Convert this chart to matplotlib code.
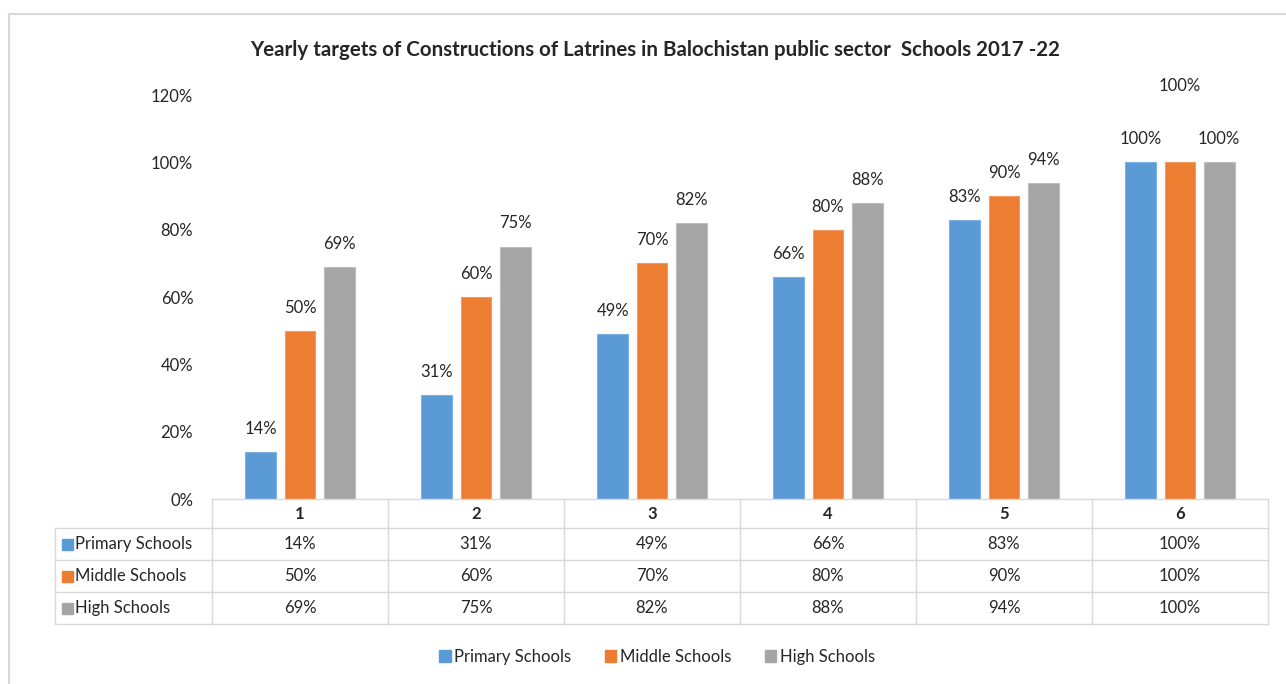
import matplotlib
matplotlib.use("Agg")
import matplotlib.pyplot as plt
from matplotlib.lines import Line2D
from matplotlib.patches import Rectangle
import numpy as np

plt.rcParams['font.family'] = ['Lato', 'DejaVu Sans']

categories = ['1', '2', '3', '4', '5', '6']
series_names = ['Primary Schools', 'Middle Schools', 'High Schools']
primary = [0.14, 0.31, 0.49, 0.66, 0.83, 1.00]
middle = [0.50, 0.60, 0.70, 0.80, 0.90, 1.00]
high = [0.69, 0.75, 0.82, 0.88, 0.94, 1.00]
yticks = [0, 0.2, 0.4, 0.6, 0.8, 1.0, 1.2]
ytick_labels = ['0%', '20%', '40%', '60%', '80%', '100%', '120%']
title = 'Yearly targets of Constructions of Latrines in Balochistan public sector  Schools 2017 -22'

colors = ['#5B9BD5', '#ED7D31', '#A5A5A5']
edges = ['#7FB1E0', '#F29A60', '#BDBDBD']
grid_c = '#D9D9D9'
txt_c = '#262626'
fs = 12

W, H = 1286, 684
fig = plt.figure(figsize=(W / 100, H / 100), dpi=100)

def fx(px):
    return px / W

def fy(py):
    return 1 - py / H

# plot area
L, R, T, B = 212, 1268, 95, 499
ax = fig.add_axes([fx(L), fy(B), fx(R) - fx(L), fy(T) - fy(B)])
n = len(categories)
x = np.arange(n)
bw = 0.176
step = 0.222
all_series = [primary, middle, high]
for k, vals in enumerate(all_series):
    ax.bar(x + (k - 1) * step, vals, width=bw, color=colors[k],
           edgecolor=edges[k], linewidth=0.8, label=series_names[k])
    for i, v in enumerate(vals):
        off = 23
        if k == 1 and i == n - 1:
            off = 76
        ax.annotate(f'{round(v * 100):d}%', (x[i] + (k - 1) * step, v),
                    xytext=(0, off), textcoords='offset pixels',
                    ha='center', va='center', fontsize=fs, color=txt_c)

ax.set_xlim(-0.5, n - 0.5)
ax.set_ylim(0, 1.2)
ax.set_yticks(yticks)
ax.set_yticklabels(ytick_labels, fontsize=fs, color=txt_c)
ax.tick_params(axis='y', length=0, pad=13.5)
ax.set_xticks([])
for s in ax.spines.values():
    s.set_visible(False)

# data table
col_w = (R - L) / n
row_top = [499, 528, 560, 592]
row_bot = 624
tleft = 55
lw = 1.0

def hline(y, x0, x1):
    fig.add_artist(Line2D([fx(x0), fx(x1)], [fy(y), fy(y)], color=grid_c, lw=lw))

def vline(xp, y0, y1):
    fig.add_artist(Line2D([fx(xp), fx(xp)], [fy(y0), fy(y1)], color=grid_c, lw=lw))

hline(499, L, R)
for y in row_top[1:] + [row_bot]:
    hline(y, tleft, R)
vline(tleft, 528, row_bot)
for j in range(n + 1):
    vline(L + j * col_w, 499, row_bot)

for j, c in enumerate(categories):
    fig.text(fx(L + (j + 0.5) * col_w), fy(514), c, ha='center', va='center',
             fontsize=fs, fontweight='bold', color=txt_c)
for k, vals in enumerate(all_series):
    yc = (row_top[k + 1] + (row_top[k + 2] if k + 2 < len(row_top) else row_bot)) / 2
    fig.add_artist(Rectangle((fx(62), fy(yc + 5.5)), fx(11), 11 / H,
                             color=colors[k], transform=fig.transFigure))
    fig.text(fx(75), fy(yc), series_names[k], ha='left', va='center',
             fontsize=fs, color=txt_c)
    for j, v in enumerate(vals):
        fig.text(fx(L + (j + 0.5) * col_w), fy(yc), f'{round(v * 100):d}%',
                 ha='center', va='center', fontsize=fs, color=txt_c)

# legend
handles = [Rectangle((0, 0), 1, 1, color=colors[k]) for k in range(3)]
fig.legend(handles, series_names, loc='center', bbox_to_anchor=(fx(657), fy(657)),
           ncol=3, frameon=False, handlelength=0.7, handleheight=0.7,
           handletextpad=0.2, columnspacing=2.0, fontsize=fs,
           labelcolor=txt_c)

# title
fig.text(fx(655), fy(50), title, ha='center', va='center', fontsize=14.8,
         fontweight='bold', color=txt_c)

# chart border
fig.add_artist(Line2D([fx(9), fx(9)], [fy(14), 0], color=grid_c, lw=1.5))
fig.add_artist(Line2D([fx(9), 1], [fy(14), fy(14)], color=grid_c, lw=1.5))

fig.savefig('out.png', dpi=100)
